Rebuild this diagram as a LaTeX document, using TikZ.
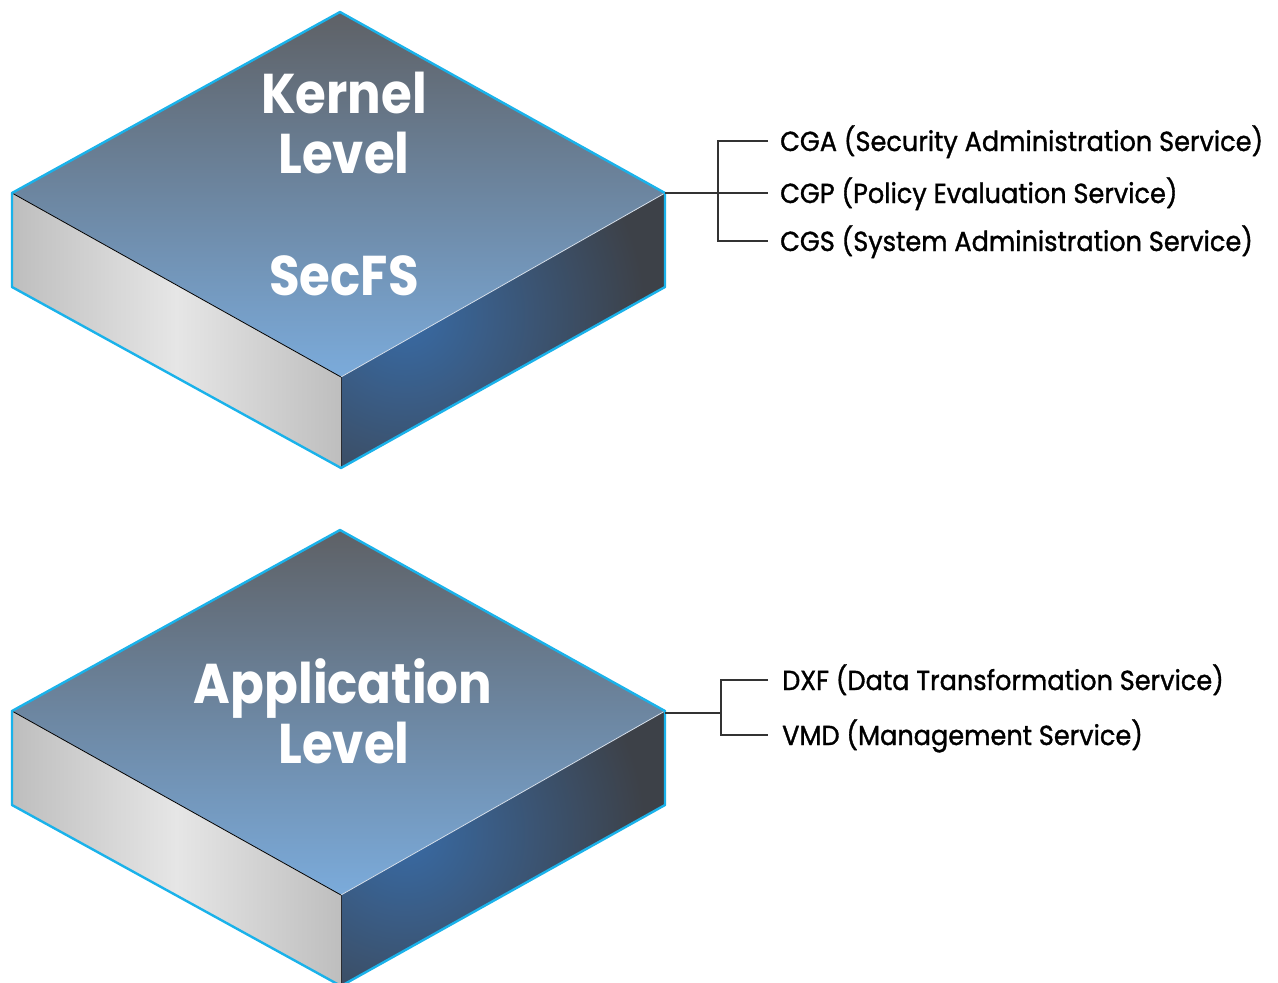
\documentclass[tikz,border=0pt]{standalone}
\usepackage{fontspec}
\newfontfamily\blockfont{Poppins}[FakeStretch=0.89]
\newfontfamily\labfont{Poppins}[FakeStretch=0.93, FakeBold=1.2]
\definecolor{edgecyan}{HTML}{1AB2EA}
\definecolor{topdark}{HTML}{5E6166}
\definecolor{toplight}{HTML}{7BABDB}
\definecolor{sidelight}{HTML}{E6E6E6}
\definecolor{sidegray}{HTML}{BEBEBE}
\definecolor{rightblue}{HTML}{386BA6}
\definecolor{rightdark}{HTML}{3D4148}
\definecolor{bracketgray}{HTML}{333333}
\tikzset{
  blocklabel/.style={text=white, font=\blockfont\bfseries\fontsize{56}{60}\selectfont, inner sep=0pt, anchor=base},
  servicelabel/.style={text=black, font=\labfont\fontsize{27.5}{30}\selectfont, inner sep=0pt, anchor=west, text height=20pt, text depth=0pt},
  bracket/.style={draw=bracketgray, line width=1.4pt},
  outline/.style={draw=edgecyan, line width=2.4pt, line join=round},
}
\newcommand{\isoblock}{%
  \shade[top color=topdark, bottom color=toplight]
    (340,12) -- (665,193) -- (341,377) -- (12,193) -- cycle;
  \shade[left color=sidegray, right color=sidegray, middle color=sidelight]
    (12,193) -- (341,377) -- (341,468) -- (12,287) -- cycle;
  \begin{scope}
    \clip (341,377) -- (665,193) -- (665,287) -- (341,468) -- cycle;
    \fill[rightdark] (330,180) rectangle (680,480);
    \shade[inner color=rightblue, outer color=rightdark] (405,315) circle (240);
  \end{scope}
  \draw[black, line width=0.8pt] (12,193) -- (341,377);
  \draw[white!80!rightblue, line width=0.8pt] (341,377) -- (665,193);
  \draw[rightdark!70!black, line width=0.8pt] (341,377) -- (341,468);
  \draw[outline] (340,12) -- (665,193) -- (665,287) -- (341,468) -- (12,287) -- (12,193) -- cycle;
}
\begin{document}
\begin{tikzpicture}[x=1pt, y=-1pt]
\useasboundingbox (0,0) rectangle (1278,983);
% Kernel block
\isoblock
\node[blocklabel] (kernel) at (344,113) {Kernel};
\node[blocklabel] (klevel) at (344,173) {Level};
\node[blocklabel] (secfs) at (344,295) {SecFS};
\coordinate (kr) at (665,193);
\coordinate (kb) at (718,193);
\node[servicelabel] (cga) at (780,141) {CGA (Security Administration Service)};
\node[servicelabel] (cgp) at (780,193) {CGP (Policy Evaluation Service)};
\node[servicelabel] (cgs) at (780,241) {CGS (System Administration Service)};
\draw[bracket] (kr) -- ([xshift=-12pt]cgp.west);
\draw[bracket] ([xshift=-12pt]cga.west) -| (kb) |- ([xshift=-12pt]cgs.west);
% Application block
\begin{scope}[shift={(0,518)}]
\isoblock
\end{scope}
\node[blocklabel] (app) at (343,703) {Application};
\node[blocklabel] (alevel) at (344,763) {Level};
\coordinate (ar) at (665,713);
\coordinate (ab) at (721,713);
\node[servicelabel] (dxf) at (782,680) {DXF (Data Transformation Service)};
\node[servicelabel] (vmd) at (782,735) {VMD (Management Service)};
\draw[bracket] (ar) -- (ab);
\draw[bracket] ([xshift=-14pt]dxf.west) -| (ab) |- ([xshift=-14pt]vmd.west);
\end{tikzpicture}
\end{document}
